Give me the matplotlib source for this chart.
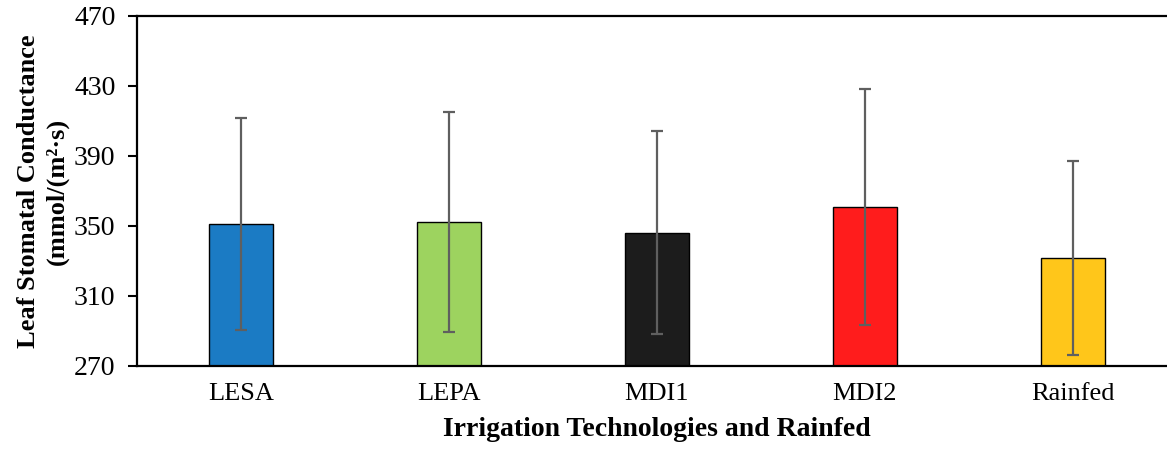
import matplotlib.pyplot as plt

plt.rcParams['font.family'] = ['Liberation Serif', 'DejaVu Serif']

# mean leaf stomatal conductance and its spread for each treatment
treatments = ["LESA", "LEPA", "MDI1", "MDI2", "Rainfed"]
conductance = [351.1, 352.3, 346.2, 361.0, 331.9]
spread = [60.5, 63.0, 58.0, 67.3, 55.4]
bar_colors = ["#1B7BC4", "#9DD35F", "#1C1C1C", "#FF1C1C", "#FFC61A"]

fig = plt.figure(figsize=(11.67, 4.5), dpi=100)
ax = fig.add_axes([0.1174, 0.1867, 0.891, 0.7778])

x = range(len(treatments))
ax.bar(x, [c - 270 for c in conductance], bottom=270, width=0.31,
       color=bar_colors, edgecolor="black", linewidth=1.0, zorder=2)
ax.errorbar(x, conductance, yerr=spread, fmt="none", ecolor="#5f5f5f",
            elinewidth=1.6, capsize=4.4, capthick=1.6, zorder=3)

ax.set_xlim(-0.5, len(treatments) - 0.5)
ax.set_ylim(270, 470)
ax.set_yticks(range(270, 471, 40))
ax.set_xticks(list(x))
ax.set_xticklabels(treatments, fontsize=19)
ax.tick_params(axis="y", labelsize=20, length=6.5, width=1.5, direction="out", pad=9)
ax.tick_params(axis="x", length=0, pad=12)

for side in ax.spines.values():
    side.set_linewidth(1.6)

ax.set_xlabel("Irrigation Technologies and Rainfed", fontsize=20,
              fontweight="bold", labelpad=9)
ax.set_ylabel("Leaf Stomatal Conductance\n(mmol/(m\u00b2\u00b7s)", fontsize=19,
              fontweight="bold", labelpad=3.5, linespacing=1.32)

fig.savefig("out.png", dpi=100)
